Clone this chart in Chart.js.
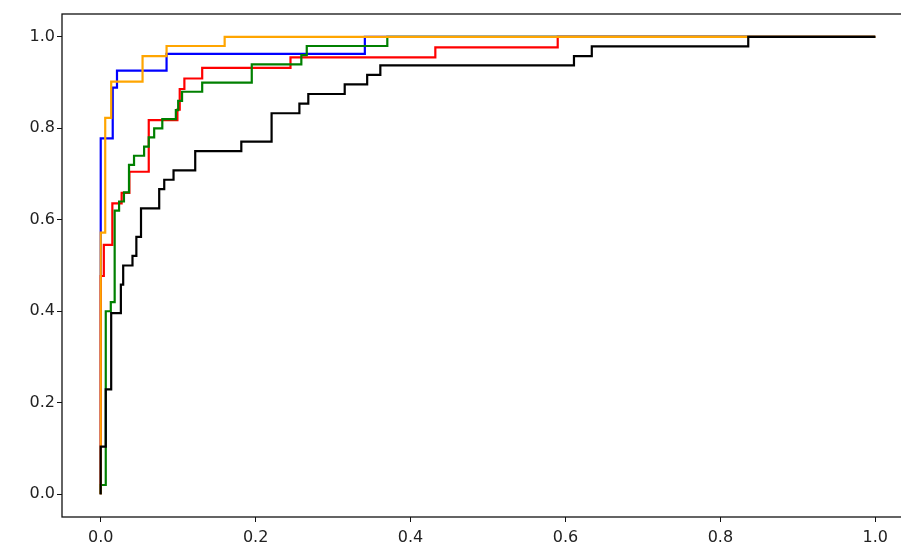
<!DOCTYPE html>
<html>
<head>
<meta charset="utf-8">
<script src="https://cdn.jsdelivr.net/npm/chart.js@4.4.0/dist/chart.umd.min.js"></script>
<style>
  html, body { margin: 0; padding: 0; background: #fff; overflow: hidden; }
  #wrap { width: 901px; height: 545px; overflow: hidden; position: relative; }
  canvas { display: block; }
</style>
</head>
<body>
<div id="wrap"><canvas id="roc" width="930" height="560"></canvas></div>
<script>
// tick labels
const xTicks = [0, 0.2, 0.4, 0.6, 0.8, 1.0];
const yTicks = [0, 0.2, 0.4, 0.6, 0.8, 1.0];

// curve corners (false positive rate / true positive rate)
const blueFpr = [0, 0, 0.0155, 0.0155, 0.021, 0.021, 0.085, 0.085, 0.341, 0.341, 1.0];
const blueTpr = [0, 0.778, 0.778, 0.889, 0.889, 0.926, 0.926, 0.963, 0.963, 1.0, 1.0];

const orangeFpr = [0, 0, 0.0058, 0.0058, 0.0135, 0.0135, 0.054, 0.054, 0.085, 0.085, 0.160, 0.160, 1.0];
const orangeTpr = [0, 0.572, 0.572, 0.823, 0.823, 0.902, 0.902, 0.958, 0.958, 0.980, 0.980, 1.0, 1.0];

const redFpr = [0, 0, 0.004, 0.004, 0.015, 0.015, 0.027, 0.027, 0.037, 0.037, 0.062, 0.062, 0.099, 0.099,
  0.102, 0.102, 0.108, 0.108, 0.131, 0.131, 0.245, 0.245, 0.432, 0.432, 0.590, 0.590, 1.0];
const redTpr = [0, 0.477, 0.477, 0.545, 0.545, 0.636, 0.636, 0.659, 0.659, 0.705, 0.705, 0.818, 0.818, 0.841,
  0.841, 0.886, 0.886, 0.909, 0.909, 0.932, 0.932, 0.955, 0.955, 0.977, 0.977, 1.0, 1.0];

const greenFpr = [0, 0, 0.0065, 0.0065, 0.013, 0.013, 0.018, 0.018, 0.0237, 0.0237, 0.030, 0.030, 0.0365, 0.0365,
  0.043, 0.043, 0.056, 0.056, 0.062, 0.062, 0.069, 0.069, 0.0795, 0.0795, 0.097, 0.097, 0.100, 0.100,
  0.105, 0.105, 0.131, 0.131, 0.195, 0.195, 0.259, 0.259, 0.266, 0.266, 0.370, 0.370, 1.0];
const greenTpr = [0, 0.02, 0.02, 0.40, 0.40, 0.42, 0.42, 0.62, 0.62, 0.64, 0.64, 0.66, 0.66, 0.72,
  0.72, 0.74, 0.74, 0.76, 0.76, 0.78, 0.78, 0.80, 0.80, 0.82, 0.82, 0.84, 0.84, 0.86,
  0.86, 0.88, 0.88, 0.90, 0.90, 0.94, 0.94, 0.96, 0.96, 0.98, 0.98, 1.0, 1.0];

const blackFpr = [0, 0, 0.0065, 0.0065, 0.0135, 0.0135, 0.026, 0.026, 0.029, 0.029, 0.041, 0.041, 0.046, 0.046,
  0.052, 0.052, 0.0755, 0.0755, 0.082, 0.082, 0.094, 0.094, 0.122, 0.122, 0.1815, 0.1815, 0.2206, 0.2206,
  0.2565, 0.2565, 0.268, 0.268, 0.315, 0.315, 0.344, 0.344, 0.361, 0.361, 0.611, 0.611, 0.634, 0.634,
  0.836, 0.836, 1.0];
const blackTpr = [0, 0.104, 0.104, 0.229, 0.229, 0.396, 0.396, 0.458, 0.458, 0.5, 0.5, 0.521, 0.521, 0.5625,
  0.5625, 0.625, 0.625, 0.667, 0.667, 0.6875, 0.6875, 0.708, 0.708, 0.75, 0.75, 0.771, 0.771, 0.833,
  0.833, 0.854, 0.854, 0.875, 0.875, 0.896, 0.896, 0.917, 0.917, 0.9375, 0.9375, 0.958, 0.958, 0.979,
  0.979, 1.0, 1.0];

const toPoints = (xs, ys) => xs.map((x, i) => ({ x: x, y: ys[i] }));

const line = (xs, ys, color) => ({
  data: toPoints(xs, ys),
  borderColor: color,
  borderWidth: 2.2,
  pointRadius: 0,
  tension: 0,
  fill: false,
});

// first dataset ends up on top
const datasets = [
  line(blackFpr, blackTpr, '#000000'),
  line(orangeFpr, orangeTpr, '#ffa500'),
  line(greenFpr, greenTpr, '#008000'),
  line(redFpr, redTpr, '#ff0000'),
  line(blueFpr, blueTpr, '#0000ff'),
];

const frame = {
  id: 'frame',
  afterDatasetsDraw(chart) {
    const { ctx, chartArea: a } = chart;
    ctx.save();
    ctx.strokeStyle = '#111';
    ctx.lineWidth = 1.3;
    ctx.strokeRect(a.left, a.top, a.right - a.left, a.bottom - a.top);
    ctx.restore();
  }
};

const tickFont = { family: 'DejaVu Sans', size: 16 };

new Chart(document.getElementById('roc').getContext('2d'), {
  type: 'line',
  data: { datasets: datasets },
  options: {
    responsive: false,
    animation: false,
    layout: { padding: { top: 14, right: 16, left: 0, bottom: 0 } },
    plugins: { legend: { display: false }, tooltip: { enabled: false } },
    scales: {
      x: {
        type: 'linear',
        min: -0.05,
        max: 1.05,
        afterBuildTicks: (s) => { s.ticks = xTicks.map(v => ({ value: v })); },
        afterFit: (s) => { s.height = 43; },
        ticks: {
          color: '#222',
          font: tickFont,
          padding: 6,
          maxRotation: 0,
          callback: (v) => Number(v).toFixed(1),
        },
        grid: { drawOnChartArea: false, drawTicks: true, tickLength: 5, color: '#111' },
        border: { display: false },
      },
      y: {
        type: 'linear',
        min: -0.05,
        max: 1.05,
        afterBuildTicks: (s) => { s.ticks = yTicks.map(v => ({ value: v })); },
        afterFit: (s) => { s.width = 62; },
        ticks: {
          color: '#222',
          font: tickFont,
          padding: 2,
          callback: (v) => Number(v).toFixed(1),
        },
        grid: { drawOnChartArea: false, drawTicks: true, tickLength: 5, color: '#111' },
        border: { display: false },
      },
    },
  },
  plugins: [frame],
});
</script>
</body>
</html>
